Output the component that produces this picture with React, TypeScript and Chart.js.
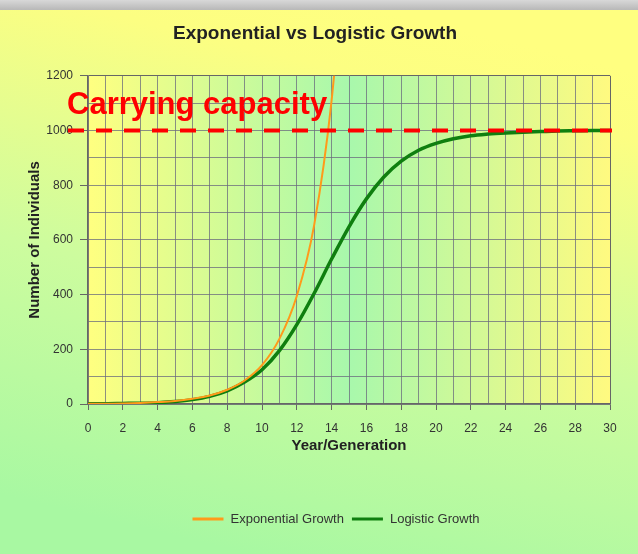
import React, { useEffect, useRef } from "react";
import { Chart, registerables } from "chart.js";

Chart.register(...registerables);

// ---- data ----
const chartTitle = "Exponential vs Logistic Growth";
const xTitle = "Year/Generation";
const yTitle = "Number of Individuals";
const capacityLabel = "Carrying capacity";
const carryingCapacity = 1000;

const expYears = [0, 1, 2, 3, 4, 5, 6, 7, 8, 9, 10, 11, 12, 13, 14, 15];
const expValues = [1, 1, 2, 4, 7, 11, 19, 31, 52, 86, 142, 238, 395, 655, 1110, 1850];

const logYears = [0, 1, 2, 3, 4, 5, 6, 7, 8, 9, 10, 11, 12, 13, 14, 15, 16, 17, 18, 19, 20, 21, 22, 23, 24, 25, 26, 27, 28, 29, 30];
const logValues = [1, 1, 2, 3, 5, 9, 16, 28, 48, 80, 125, 195, 290, 405, 530, 648, 750, 830, 888, 928, 953, 970, 981, 987, 991, 994, 996, 998, 999, 1000, 1000];

const seriesNames = ["Exponential Growth", "Logistic Growth"];
const seriesColors = ["#ff9a1a", "#0f7f0f"];

const FONT = "'Liberation Sans', Arial, sans-serif";
const GRID = "rgba(105,105,125,0.75)";
const BORDER = "#666";

const bgPlugin = {
  id: "bgPlugin",
  beforeDraw(chart: any) {
    const { ctx, width, height, chartArea } = chart;
    ctx.save();
    const g = ctx.createLinearGradient(380, 10, 250, height);
    g.addColorStop(0, "#ffff80");
    g.addColorStop(0.12, "#fcfe82");
    g.addColorStop(0.55, "#cdfc9e");
    g.addColorStop(1, "#a8f8a2");
    ctx.fillStyle = g;
    ctx.fillRect(0, 0, width, height);
    const tg = ctx.createLinearGradient(0, 0, 0, 10);
    tg.addColorStop(0, "#d8d8d8");
    tg.addColorStop(1, "#b8b8b8");
    ctx.fillStyle = tg;
    ctx.fillRect(0, 0, width, 10);
    const pg = ctx.createLinearGradient(chartArea.left, 0, chartArea.right, 0);
    pg.addColorStop(0, "#ffff80");
    pg.addColorStop(0.5, "#a8f8ac");
    pg.addColorStop(1, "#fffa80");
    ctx.fillStyle = pg;
    ctx.fillRect(chartArea.left, chartArea.top, chartArea.right - chartArea.left, chartArea.bottom - chartArea.top);
    ctx.restore();
  },
};

const capacityPlugin = {
  id: "capacityPlugin",
  afterDatasetsDraw(chart: any) {
    const { ctx, chartArea, scales } = chart;
    const y = scales.y.getPixelForValue(carryingCapacity);
    ctx.save();
    ctx.strokeStyle = "#ff0000";
    ctx.lineWidth = 4;
    ctx.setLineDash([16, 12]);
    ctx.beginPath();
    ctx.moveTo(chartArea.left - 20, y);
    ctx.lineTo(chartArea.right + 2, y);
    ctx.stroke();
    ctx.setLineDash([]);
    ctx.fillStyle = "#ff0000";
    ctx.font = `bold 31px ${FONT}`;
    ctx.textAlign = "left";
    ctx.textBaseline = "alphabetic";
    ctx.fillText(capacityLabel, chartArea.left - 21, y - 17);
    ctx.restore();
  },
};

const legendPlugin = {
  id: "legendPlugin",
  afterDraw(chart: any) {
    const { ctx } = chart;
    ctx.save();
    ctx.font = `13px ${FONT}`;
    const lineLen = 31;
    const gap = 7;
    const between = 8;
    const widths = seriesNames.map((n) => ctx.measureText(n).width);
    const total = widths.reduce((a, w) => a + lineLen + gap + w, 0) + between * (seriesNames.length - 1);
    let x = 336 - total / 2;
    const y = 519;
    seriesNames.forEach((name, i) => {
      ctx.strokeStyle = seriesColors[i];
      ctx.lineWidth = 3;
      ctx.beginPath();
      ctx.moveTo(x, y);
      ctx.lineTo(x + lineLen, y);
      ctx.stroke();
      x += lineLen + gap;
      ctx.fillStyle = "#333";
      ctx.textBaseline = "middle";
      ctx.fillText(name, x, y);
      x += widths[i] + between;
    });
    ctx.restore();
  },
};

export default function App() {
  const ref = useRef<HTMLCanvasElement>(null);
  useEffect(() => {
    if (!ref.current) return;
    const chart = new Chart(ref.current, {
      type: "line",
      data: {
        datasets: [
          {
            label: seriesNames[0],
            data: expYears.map((x, i) => ({ x, y: expValues[i] })),
            borderColor: seriesColors[0],
            borderWidth: 2,
            pointRadius: 0,
            cubicInterpolationMode: "monotone",
            fill: false,
          },
          {
            label: seriesNames[1],
            data: logYears.map((x, i) => ({ x, y: logValues[i] })),
            borderColor: seriesColors[1],
            borderWidth: 3.5,
            pointRadius: 0,
            cubicInterpolationMode: "monotone",
            fill: false,
          },
        ],
      },
      options: {
        responsive: false,
        animation: false,
        layout: { padding: { left: 20, right: 28, top: 0, bottom: 96 } },
        plugins: {
          legend: { display: false },
          tooltip: { enabled: false },
          title: {
            display: true,
            text: chartTitle,
            color: "#222",
            font: { family: FONT, size: 19, weight: "bold" },
            padding: { top: 22, bottom: 31 },
          },
        },
        scales: {
          x: {
            type: "linear",
            min: 0,
            max: 30,
            afterFit: (s: any) => {
              s.height = 54;
            },
            ticks: {
              stepSize: 1,
              autoSkip: false,
              maxRotation: 0,
              padding: 11,
              color: "#333",
              font: { family: FONT, size: 12 },
              callback: (v: any) => (v % 2 === 0 ? String(v) : ""),
            },
            grid: {
              color: (c: any) => (c.tick && c.tick.value === 30 ? BORDER : GRID),
              tickColor: (c: any) => (c.tick && c.tick.value % 2 === 0 ? BORDER : "transparent"),
              tickLength: 6,
              lineWidth: 1,
            },
            border: { color: BORDER, width: 1.5 },
            title: {
              display: true,
              text: xTitle,
              color: "#222",
              font: { family: FONT, size: 15, weight: "bold" },
              padding: { top: 0, bottom: 3 },
            },
          },
          y: {
            min: 0,
            max: 1200,
            afterFit: (s: any) => {
              s.width = 68;
            },
            ticks: {
              stepSize: 100,
              autoSkip: false,
              padding: 7,
              color: "#333",
              font: { family: FONT, size: 12 },
              callback: (v: any) => (v % 200 === 0 ? String(v) : ""),
            },
            grid: {
              color: (c: any) => (c.tick && c.tick.value === 1200 ? BORDER : GRID),
              tickColor: (c: any) => (c.tick && c.tick.value % 200 === 0 ? BORDER : "transparent"),
              tickLength: 8,
              lineWidth: 1,
            },
            border: { color: BORDER, width: 1.5 },
            title: {
              display: true,
              text: yTitle,
              color: "#222",
              font: { family: FONT, size: 15, weight: "bold" },
              padding: { top: 6, bottom: 0 },
            },
          },
        },
      },
      plugins: [bgPlugin, capacityPlugin, legendPlugin],
    } as any);
    return () => chart.destroy();
  }, []);
  return (
    <div style={{ position: "fixed", left: 0, top: 0, width: 638, height: 554 }}>
      <canvas ref={ref} width={638} height={554} />
    </div>
  );
}
